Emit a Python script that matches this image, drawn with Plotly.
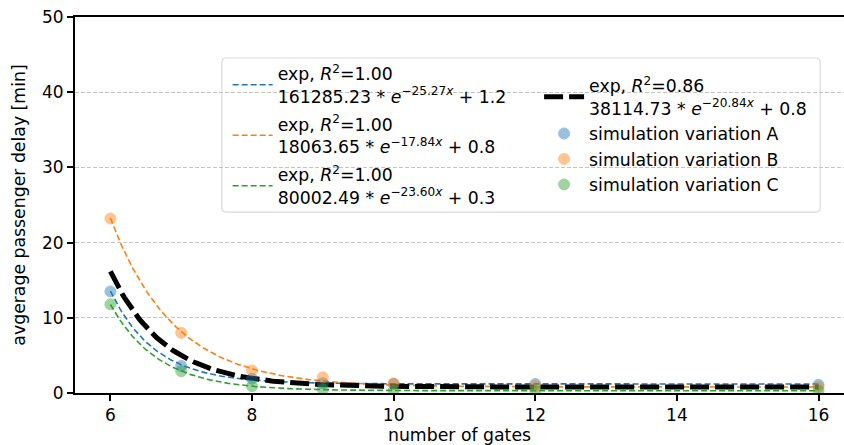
import numpy as np
import plotly.graph_objects as go

# ---- data ----
gates = [6, 7, 8, 9, 10, 12, 16]
sim_a = [13.5, 3.6, 1.9, 1.3, 1.2, 1.2, 1.1]
sim_b = [23.2, 8.0, 3.0, 2.1, 1.3, 0.9, 0.8]
sim_c = [11.8, 2.9, 0.9, 0.5, 0.3, 0.3, 0.3]

# fitted exponential models (coefficients as printed in the legend): a*exp(-b*x/16)+c
fit_a = [161285.23, 25.27, 1.2]
fit_b = [18063.65, 17.84, 0.8]
fit_c = [80002.49, 23.60, 0.3]
fit_all = [38114.73, 20.84, 0.8]
r2_values = ["1.00", "1.00", "1.00", "0.86"]
x_norm = 16.0

y_ticks = [0, 10, 20, 30, 40, 50]
x_ticks = [6, 8, 10, 12, 14, 16]

C_A, C_B, C_C = "#1f77b4", "#ff7f0e", "#2ca02c"
FONT = "DejaVu Sans"
FS = 17.3

xs = np.linspace(6, 16, 300)


def fit_curve(p):
    a, b, c = p
    return a * np.exp(-b * xs / x_norm) + c


def fit_label(p, r2):
    a, b, c = p
    return (f"exp, <i>R</i><sup>2</sup>=" + r2 + "<br>"
            f"{a:.2f} * <i>e</i><sup>\u2212{b:.2f}<i>x</i></sup> + {c:.1f}")


fig = go.Figure()

for p, col, r2, grp in [(fit_a, C_A, r2_values[0], "g1"),
                        (fit_b, C_B, r2_values[1], "g2"),
                        (fit_c, C_C, r2_values[2], "g3")]:
    fig.add_trace(go.Scatter(
        x=xs, y=fit_curve(p), mode="lines",
        line=dict(color=col, width=1.6, dash="6px,3px"),
        name=fit_label(p, r2), legend="legend", legendgroup=grp))

fig.add_trace(go.Scatter(
    x=xs, y=fit_curve(fit_all), mode="lines",
    line=dict(color="black", width=5, dash="19px,6px"),
    name=fit_label(fit_all, r2_values[3]), legend="legend2", legendgroup="h1"))

for ys, col, nm, grp in [(sim_a, C_A, "simulation variation A", "h2"),
                         (sim_b, C_B, "simulation variation B", "h3"),
                         (sim_c, C_C, "simulation variation C", "h4")]:
    fig.add_trace(go.Scatter(
        x=gates, y=ys, mode="markers",
        marker=dict(color=col, size=11, opacity=0.45,
                    line=dict(color=col, width=1)),
        name=nm, legend="legend2", legendgroup=grp))

# legend frame with rounded corners (paper coordinates)
x0, x1, y0, y1 = 0.191, 0.969, 0.481, 0.891
rx, ry = 0.0055, 0.0115
frame_path = (f"M{x0+rx},{y0} L{x1-rx},{y0} Q{x1},{y0} {x1},{y0+ry} "
              f"L{x1},{y1-ry} Q{x1},{y1} {x1-rx},{y1} "
              f"L{x0+rx},{y1} Q{x0},{y1} {x0},{y1-ry} "
              f"L{x0},{y0+ry} Q{x0},{y0} {x0+rx},{y0} Z")
fig.add_shape(type="path", xref="paper", yref="paper", path=frame_path,
              line=dict(color="#d9d9d9", width=1.2),
              fillcolor="rgba(255,255,255,0.8)", layer="below")

fig.update_layout(
    width=844, height=445,
    margin=dict(l=75, r=0, t=17, b=52),
    paper_bgcolor="white", plot_bgcolor="white",
    font=dict(family=FONT, size=FS, color="black"),
    showlegend=True,
    legend=dict(x=0.1985, y=0.897, xanchor="left", yanchor="top",
                bgcolor="rgba(0,0,0,0)", borderwidth=0,
                font=dict(family=FONT, size=FS), tracegroupgap=2.5,
                traceorder="grouped", valign="middle", itemwidth=40),
    legend2=dict(x=0.6035, y=0.865, xanchor="left", yanchor="top",
                 bgcolor="rgba(0,0,0,0)", borderwidth=0,
                 font=dict(family=FONT, size=FS), tracegroupgap=3,
                 traceorder="normal", valign="middle", itemwidth=40),
    xaxis=dict(range=[5.5, 16.36], tickvals=x_ticks, ticks="outside",
               ticklen=6, tickcolor="black", tickwidth=1.5, showline=True,
               linecolor="black", linewidth=1.8, mirror=True, showgrid=False,
               zeroline=False,
               title=dict(text="number of gates", standoff=4,
                          font=dict(size=FS)),
               tickfont=dict(size=17)),
    yaxis=dict(range=[0, 50], tickvals=y_ticks, ticks="outside",
               ticklen=6, tickcolor="black", tickwidth=1.5, showline=True,
               linecolor="black", linewidth=1.8, showgrid=True,
               gridcolor="#c4c4c4", gridwidth=1, griddash="4px,2px",
               zeroline=False,
               title=dict(text="avgerage passenger delay [min]", standoff=12,
                          font=dict(size=FS)),
               tickfont=dict(size=17)),
)

fig.write_html("out.html")
